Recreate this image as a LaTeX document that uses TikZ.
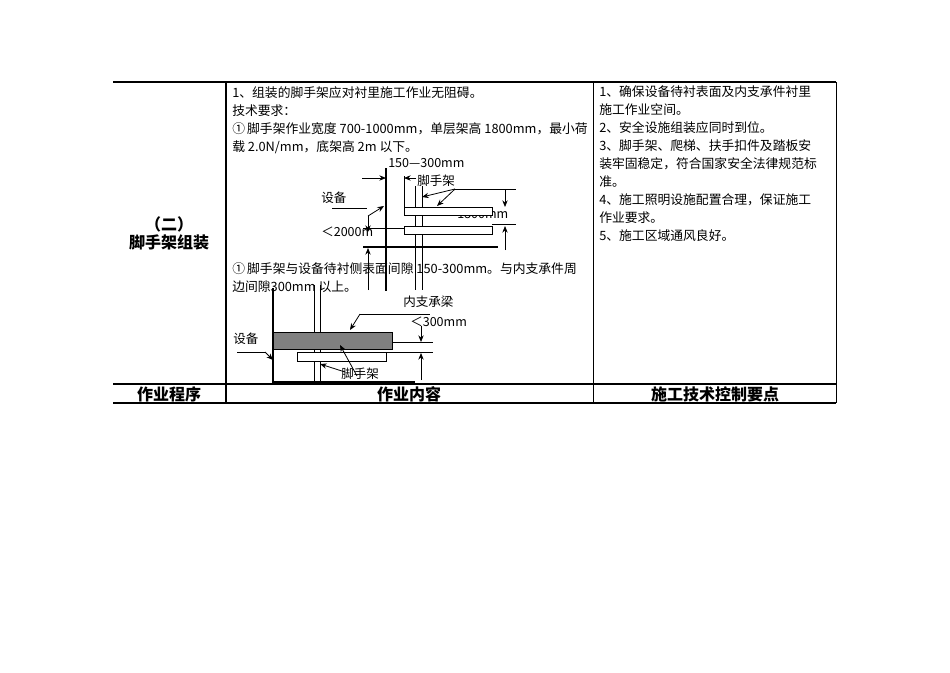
\documentclass[tikz,border=0pt]{standalone}
\usepackage{fontspec}
\setmainfont{Noto Sans CJK SC}
\usetikzlibrary{arrows.meta}
\begin{document}
\begin{tikzpicture}[x=0.75pt,y=-0.75pt,
  txt/.style={anchor=west,inner sep=0pt,font=\fontsize{9.6}{11}\selectfont},
  lbl/.style={inner sep=0pt,font=\fontsize{9.4}{11}\selectfont},
  hdr/.style={inner sep=0pt,font=\fontsize{12}{13}\selectfont\bfseries},
  thick1/.style={line width=2pt},
  thin1/.style={line width=0.6pt},
  arr/.style={line width=0.6pt,-{Stealth[length=5pt,width=4pt]}}]
\useasboundingbox (0,0) rectangle (950,672);
% table
\draw[thick1] (113,82) -- (836,82);
\draw[thick1] (113,384) -- (836,384);
\draw[thick1] (113,403) -- (836,403);
\draw[line width=1.5pt] (226,82) -- (226,403);
\draw[thin1] (593,82) -- (593,403);
\draw[thin1] (836,82) -- (836,403);
% left column
\node[hdr] (a1) at (169,224) {（二）};
\node[hdr] (a2) at (169,242) {脚手架组装};
\node[hdr] (h1) at (169,394) {作业程序};
\node[hdr] (h2) at (409,394) {作业内容};
\node[hdr] (h3) at (715,394) {施工技术控制要点};
% column 2 text
\node[txt] (t1) at (232,93) {1、组装的脚手架应对衬里施工作业无阻碍。};
\node[txt] (t2) at (232,111) {技术要求：};
\node[txt] (t3) at (232,129) {①\,脚手架作业宽度 700-1000mm，单层架高 1800mm，最小荷};
\node[txt] (t4) at (232,147) {载 2.0N/mm，底架高 2m 以下。};
\node[txt] (t5) at (232,269) {①\,脚手架与设备待衬侧表面间隙 150-300mm。与内支承件周};
\node[txt] (t6) at (232,287) {边间隙300mm 以上。};
% column 3 text
\node[txt] (r1) at (599,92) {1、确保设备待衬表面及内支承件衬里};
\node[txt] (r2) at (599,110) {施工作业空间。};
\node[txt] (r3) at (599,128) {2、安全设施组装应同时到位。};
\node[txt] (r4) at (599,146) {3、脚手架、爬梯、扶手扣件及踏板安};
\node[txt] (r5) at (599,164) {装牢固稳定，符合国家安全法律规范标};
\node[txt] (r6) at (599,182) {准。};
\node[txt] (r7) at (599,200) {4、施工照明设施配置合理，保证施工};
\node[txt] (r8) at (599,218) {作业要求。};
\node[txt] (r9) at (599,236) {5、施工区域通风良好。};
% diagram 1
\node[lbl,anchor=west] (d150) at (388,163) {150—300mm};
\node[lbl,anchor=west] (d1800) at (457,214) {1800mm};
\draw[line width=1.5pt] (386,168) -- (386,291);
\coordinate (w1) at (386,178);
\coordinate (w0) at (362,178);
\draw[arr] (w0) -- (w1);
\draw[thin1] (404,176) -- (404,214);
\coordinate (s0) at (416,178);
\coordinate (s1) at (404,178);
\draw[arr] (s0) -- (s1);
\node[lbl,anchor=west] (dsj) at (417,181) {脚手架};
\draw[thin1] (415,186) -- (415,290) (422,186) -- (422,290);
\draw[thin1,fill=white] (404,207) rectangle (492,215);
\draw[thin1,fill=white] (404,226) rectangle (492,234);
\draw[line width=1.5pt] (363,247) -- (498,247);
\coordinate (p0) at (455,189);
\coordinate (p1) at (422,197);
\coordinate (p2) at (437,206);
\draw[thin1] (p0) -- (516,189);
\draw[arr] (p0) -- (p1);
\draw[arr] (p0) -- (p2);
\draw[thin1] (492,224) -- (516,224);
\draw[arr] (505,189) -- (505,207);
\draw[arr] (505,250) -- (505,226);
\node[lbl,anchor=west] (dsb) at (321,198) {设备};
\coordinate (e0) at (368,216);
\coordinate (e1) at (384,206);
\draw[thin1] (332,208) -- (367,208);
\draw[arr] (e0) -- (e1);
\draw[arr] (368,216) -- (368,232);
\draw[thin1] (363,228) -- (404,228);
\node[lbl,anchor=west] (d2000) at (321,232) {＜2000m};
\draw[arr] (368,290) -- (368,248);
% diagram 2
\draw[line width=1.5pt] (273,288) -- (273,383);
\draw[line width=1.5pt] (273,382) -- (415,382);
\draw[thin1] (314,285) -- (314,384) (320,285) -- (320,384);
\draw[thin1,fill=black!50] (273,332) rectangle (392,349);
\draw[thin1,fill=white] (297,352) rectangle (386,361);
\node[lbl,anchor=west] (esb) at (233,339) {设备};
\draw[thin1] (237,352) -- (265,352);
\draw[arr] (265,352) -- (273,360);
\node[lbl,anchor=west] (enz) at (403,302) {内支承梁};
\draw[thin1] (360,314) -- (430,314);
\draw[arr] (360,314) -- (350,330);
\node[lbl,anchor=west] (e300) at (410,322) {＜300mm};
\draw[thin1] (392,342) -- (433,342) (386,352) -- (433,352);
\draw[arr] (421,326) -- (421,342);
\draw[arr] (421,380) -- (421,353);
\node[lbl,anchor=west] (esj) at (341,374) {脚手架};
\draw[arr] (345,372) -- (320,364);
\draw[arr] (357,376) -- (340,345);
\end{tikzpicture}
\end{document}
